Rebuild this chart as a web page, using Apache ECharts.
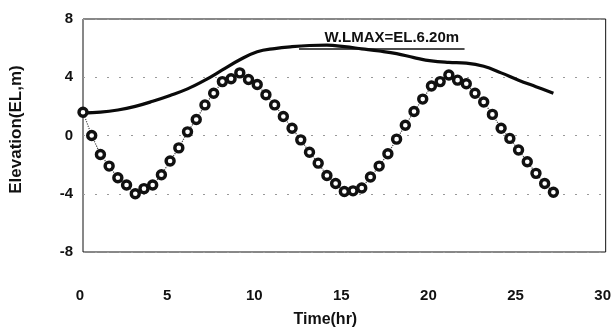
<!DOCTYPE html>
<html>
<head>
<meta charset="utf-8">
<script src="https://cdn.jsdelivr.net/npm/echarts@6/dist/echarts.min.js"></script>
<style>html,body{margin:0;padding:0;background:#fff}#c{width:614px;height:333px}</style>
</head>
<body>
<div id="c"></div>
<script>
// Tide (markers), every 0.5 hr
var tideTime = [0,0.5,1,1.5,2,2.5,3,3.5,4,4.5,5,5.5,6,6.5,7,7.5,8,8.5,9,9.5,10,10.5,11,11.5,12,12.5,13,13.5,14,14.5,15,15.5,16,16.5,17,17.5,18,18.5,19,19.5,20,20.5,21,21.5,22,22.5,23,23.5,24,24.5,25,25.5,26,26.5,27];
var tideLevel = [1.6,0.0,-1.3,-2.1,-2.9,-3.4,-4.0,-3.65,-3.4,-2.7,-1.75,-0.85,0.25,1.1,2.1,2.9,3.7,3.9,4.3,3.85,3.5,2.8,2.1,1.3,0.5,-0.3,-1.15,-1.9,-2.75,-3.3,-3.85,-3.8,-3.6,-2.85,-2.1,-1.25,-0.25,0.7,1.65,2.5,3.4,3.7,4.15,3.8,3.55,2.9,2.3,1.45,0.5,-0.2,-1.0,-1.8,-2.6,-3.3,-3.9];
// Water level (solid line), every 1 hr
var wlTime = [0,1,2,3,4,5,6,7,8,9,10,11,12,13,14,15,16,17,18,19,20,21,22,23,24,25,26,27];
var wlLevel = [1.55,1.6,1.75,2.0,2.35,2.75,3.2,3.8,4.5,5.2,5.75,5.97,6.1,6.18,6.2,6.1,5.95,5.8,5.62,5.35,5.12,5.02,4.97,4.75,4.3,3.8,3.35,2.9];
// Axis ticks and annotation
var xTicks = [0,5,10,15,20,25,30];
var yTicks = [-8,-4,0,4,8];
var annotText = 'W.LMAX=EL.6.20m';
var annotX = [12.4, 21.9];
var annotY = 5.95;

function pairs(xs, ys){ return xs.map(function(x,i){ return [x, ys[i]]; }); }

var font = "'Liberation Sans', Arial, sans-serif";
var chart = echarts.init(document.getElementById('c'));
var tickFont = {fontFamily: font, fontWeight: 'bold', fontSize: 15, color: '#111'};
chart.setOption({
  animation: false,
  grid: {left: 82, right: 7, top: 19, bottom: 80, show: true, borderColor: '#111', borderWidth: 1},
  xAxis: {
    type: 'value', min: xTicks[0], max: xTicks[xTicks.length-1], interval: 5,
    name: 'Time(hr)', nameLocation: 'middle', nameGap: 60,
    nameTextStyle: {fontFamily: font, fontWeight: 'bold', fontSize: 16, color: '#111', padding: [0, 38, 0, 0]},
    axisLine: {show: false}, axisTick: {show: false},
    axisLabel: Object.assign({margin: 36, padding: [0, 6, 0, 0]}, tickFont),
    splitLine: {show: false}
  },
  yAxis: {
    type: 'value', min: yTicks[0], max: yTicks[yTicks.length-1], interval: 4,
    name: 'Elevation(EL,m)', nameLocation: 'middle', nameGap: 58,
    nameTextStyle: {fontFamily: font, fontWeight: 'bold', fontSize: 17, color: '#111', padding: [0, 0, 0, 12]},
    axisLine: {show: false}, axisTick: {show: false},
    axisLabel: Object.assign({margin: 10}, tickFont),
    splitLine: {show: true, lineStyle: {type: [2, 10], color: '#999', width: 1}}
  },
  series: [
    {
      type: 'line', data: pairs(tideTime, tideLevel),
      symbol: 'circle', symbolSize: 8,
      itemStyle: {color: '#fff', borderColor: '#111', borderWidth: 3.4},
      lineStyle: {color: '#444', width: 1.2, type: 'dotted'},
      z: 3
    },
    {
      type: 'line', data: pairs(wlTime, wlLevel), smooth: 0.4,
      symbol: 'none',
      lineStyle: {color: '#0a0a0a', width: 3.2},
      z: 2,
      markLine: {
        silent: true, symbol: 'none',
        lineStyle: {color: '#111', width: 1.5, type: 'solid'},
        label: {show: true, position: 'insideMiddleTop', formatter: annotText,
          fontFamily: font, fontWeight: 'bold', fontSize: 15, color: '#111', distance: 3, offset: [10, 0]},
        data: [[{coord: [annotX[0], annotY]}, {coord: [annotX[1], annotY]}]]
      }
    }
  ]
});
</script>
</body>
</html>
